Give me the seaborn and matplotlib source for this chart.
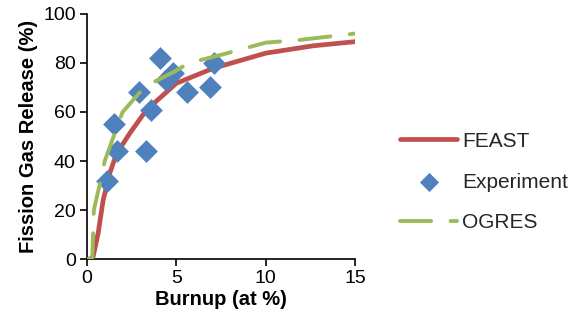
import matplotlib
matplotlib.use("Agg")
import matplotlib.pyplot as plt
import seaborn as sns
import pandas as pd

# Experiment data
exp_burnup = [1.1, 1.5, 1.7, 2.9, 3.3, 3.6, 4.1, 4.4, 4.8, 5.6, 6.9, 7.1]
exp_fgr = [32, 55, 44, 68, 44, 61, 82, 73, 76, 68, 70, 80]

# FEAST model curve
feast_burnup = [0, 0.2, 0.35, 0.63, 0.91, 1.28, 1.66, 2.4, 3.33, 5.0, 7.06, 10.0, 12.65, 15.0]
feast_fgr = [0, 0, 1, 10.5, 24, 35, 43, 51.3, 60.8, 71.7, 77.8, 84, 87, 88.7]

# OGRES model curve
ogres_burnup = [0, 0.3, 0.39, 0.82, 1.0, 1.66, 2.0, 3.24, 5.0, 5.66, 7.6, 10.0, 11.9, 15.0]
ogres_fgr = [0, 0, 20, 33.6, 40, 53.3, 60, 70.3, 76.9, 79.9, 83.5, 88.3, 89.4, 92]

sns.set_theme(style="ticks")
plt.rcParams['font.family'] = ['Liberation Sans', 'DejaVu Sans']

fig = plt.figure(figsize=(5.83, 3.25), dpi=100)
ax = fig.add_axes([0.149, 0.203, 0.46, 0.754])

red = "#C0504D"
blue = "#4F81BD"
green = "#9BBB59"

df_f = pd.DataFrame({"x": feast_burnup, "y": feast_fgr})
df_o = pd.DataFrame({"x": ogres_burnup, "y": ogres_fgr})
df_e = pd.DataFrame({"x": exp_burnup, "y": exp_fgr})

sns.lineplot(data=df_f, x="x", y="y", ax=ax, color=red, linewidth=3.4,
             sort=False, label="FEAST", zorder=2)
sns.scatterplot(data=df_e, x="x", y="y", ax=ax, color=blue, marker="D", s=135,
                linewidth=0, label="Experiment", zorder=3)
sns.lineplot(data=df_o, x="x", y="y", ax=ax, color=green, linewidth=2.8,
             sort=False, label="OGRES", zorder=4, dashes=False)
ax.lines[-1].set_dashes([8, 5])
ax.lines[-1].set_dash_capstyle("round")

ax.set_xlim(0, 15)
ax.set_ylim(0, 100)
ax.set_xticks([0, 5, 10, 15])
ax.set_yticks([0, 20, 40, 60, 80, 100])
ax.tick_params(axis="both", labelsize=14, colors="black", direction="out",
               length=5, width=1.2, pad=3)
for s in ["left", "bottom"]:
    ax.spines[s].set_color("black")
    ax.spines[s].set_linewidth(1.2)
sns.despine(ax=ax)

ax.set_xlabel("Burnup (at %)", fontsize=14.5, fontweight="bold", color="black", labelpad=2)
ax.set_ylabel("Fission Gas Release (%)", fontsize=14.5, fontweight="bold", color="black", labelpad=4)

leg = ax.legend(loc="center left", bbox_to_anchor=(400 / 583, 1 - 182 / 325),
                bbox_transform=fig.transFigure, frameon=False, borderpad=0,
                borderaxespad=0, fontsize=15, handlelength=2.74,
                labelspacing=1.05, handletextpad=0.25)
leg.legend_handles[1].set_sizes([95])

fig.savefig("out.png", dpi=100)
